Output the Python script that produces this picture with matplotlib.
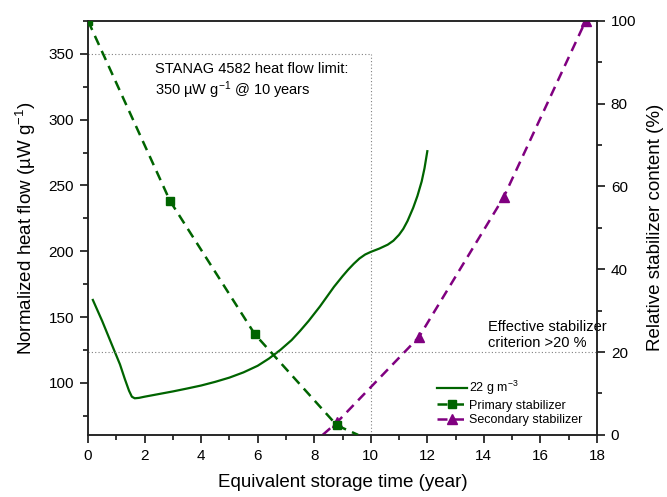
import numpy as np
import matplotlib
matplotlib.use("Agg")
import matplotlib.pyplot as plt
from matplotlib.ticker import MultipleLocator
from matplotlib.lines import Line2D

plt.rcParams['font.family'] = ['Liberation Sans', 'DejaVu Sans']
plt.rcParams['mathtext.default'] = 'regular'

# heat flow curve, 22 g m^-3 (left axis)
heat_t = [0.17, 0.5, 0.9, 1.13, 1.3, 1.45, 1.55, 1.65, 1.8, 2.0, 2.5, 3.0, 3.5, 4.0, 4.5,
          5.0, 5.5, 6.0, 6.4, 6.8, 7.2, 7.5, 7.8, 8.2, 8.5, 8.7, 9.0, 9.2, 9.4, 9.6,
          9.8, 10.0, 10.3, 10.6, 10.8, 11.0, 11.15, 11.3, 11.5, 11.65, 11.8, 11.9, 12.0]
heat_q = [163, 147, 126, 114, 103, 94, 89.5, 88.3, 88.6, 89.5, 91.5, 93.5, 95.7, 98, 100.8,
          104, 108, 113, 118.5, 125, 132.5, 139.5, 147, 158, 167, 173, 181, 186, 190.5, 194.5,
          197.5, 199.5, 202, 205, 208, 212.5, 217, 223, 233, 242, 253, 263, 276]

# primary stabilizer (right axis, %)
prim_t = [0.0, 2.9, 5.9, 8.8, 9.55]
prim_c = [100, 56.5, 24.3, 2.3, 0]

# secondary stabilizer (right axis, %)
sec_t = [8.3, 8.8, 11.7, 14.7, 17.6]
sec_c = [0, 3.0, 23.6, 57.4, 100]

green = '#006400'
purple = '#800080'
grey = '#808080'

fig = plt.figure(figsize=(6.67, 4.97), dpi=100)
ax = fig.add_axes([0.132, 0.125, 0.763, 0.833])
ax2 = ax.twinx()

# reference lines
ax.plot([0, 10], [350, 350], color=grey, lw=0.8, ls=(0, (1, 2)))
ax.plot([10, 10], [60.5, 350], color=grey, lw=0.8, ls=(0, (1, 2)))
ax2.axhline(20, color=grey, lw=0.8, ls=(0, (1, 2)))

ax.plot(heat_t, heat_q, color=green, lw=1.6)

l_sec, = ax2.plot(sec_t, sec_c, color=purple, lw=1.8, ls=(0, (4, 2.6)),
                  marker='^', ms=7, markevery=[1, 2, 3, 4], zorder=2)
l_prim, = ax2.plot(prim_t, prim_c, color=green, lw=1.8, ls=(0, (4, 2.6)),
                   marker='s', ms=5.5, markevery=[0, 1, 2, 3], zorder=3)

ax.set_xlim(0, 18)
ax.set_ylim(60.5, 375)
ax2.set_ylim(0, 100)

ax.xaxis.set_major_locator(MultipleLocator(2))
ax.xaxis.set_minor_locator(MultipleLocator(1))
ax.yaxis.set_major_locator(MultipleLocator(50))
ax.yaxis.set_minor_locator(MultipleLocator(25))
ax2.yaxis.set_major_locator(MultipleLocator(20))
ax2.yaxis.set_minor_locator(MultipleLocator(10))

for a in (ax, ax2):
    a.tick_params(which='major', direction='out', length=6, width=1.1, labelsize=11, pad=4)
    a.tick_params(which='minor', direction='out', length=3.5, width=1.1)
    for s in a.spines.values():
        s.set_linewidth(1.1)
        s.set_color('#222222')

ax.set_xlabel('Equivalent storage time (year)', fontsize=13.5, labelpad=8)
ax.set_ylabel('Normalized heat flow (µW g$^{-1}$)', fontsize=13.5, labelpad=8)
ax2.set_ylabel('Relative stabilizer content (%)', fontsize=13.5, labelpad=8)

ax.text(2.37, 344, 'STANAG 4582 heat flow limit:\n350 µW g$^{-1}$ @ 10 years',
        fontsize=10.5, va='top', ha='left', linespacing=1.25)
ax.text(14.14, 148, 'Effective stabilizer\ncriterion >20 %',
        fontsize=10.5, va='top', ha='left', linespacing=1.25)

h_heat = Line2D([], [], color=green, lw=1.6)
ax2.legend([h_heat, l_prim, l_sec],
           ['22 g m$^{-3}$', 'Primary stabilizer', 'Secondary stabilizer'],
           loc='upper left', bbox_to_anchor=(0.685, 0.135), frameon=False,
           fontsize=9, handlelength=2.4, handletextpad=0.2, labelspacing=0.2,
           borderaxespad=0, borderpad=0)

fig.savefig('out.png', dpi=100)
